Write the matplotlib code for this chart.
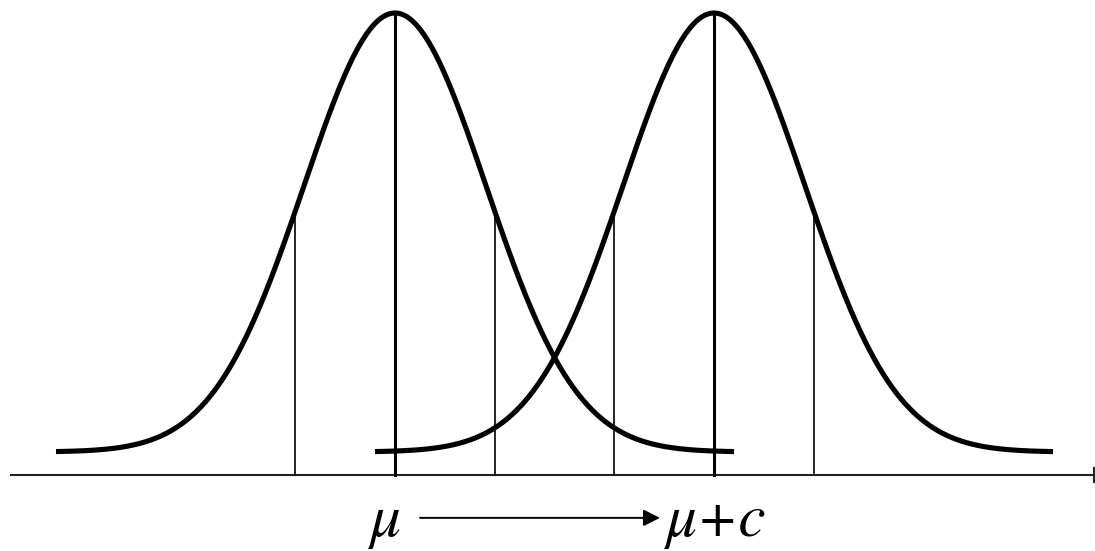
import numpy as np
import matplotlib
matplotlib.use("Agg")
import matplotlib.pyplot as plt

# ---- data (units: 1 unit = distance from mean to side marker line) ----
means = [0.0, 3.19]            # mu and mu + c
curve_sd = 0.91                # spread of each density curve
curve_halfwidth = 3.39         # how far each drawn curve extends from its mean
marker_offsets = [-1.0, 0.0, 1.0]   # vertical marker lines relative to each mean
labels = ["μ", "μ+c"]

fig = plt.figure(figsize=(10.95, 5.51), dpi=100)
ax = fig.add_axes([0, 0, 1, 1])
ax.set_xlim(-3.95, 7.0)
ax.set_ylim(-0.2255, 1.0296)
ax.axis("off")

def dens(x, m):
    return np.exp(-0.5 * ((x - m) / curve_sd) ** 2)

axis_y = -0.0524
for i, m in enumerate(means):
    xs = np.linspace(m - curve_halfwidth, m + curve_halfwidth, 600)
    ax.plot(xs, dens(xs, m), color="black", lw=3.7, solid_capstyle="butt", zorder=3)
    for off in marker_offsets:
        xv = m + off
        top = dens(xv, m)
        bottom = axis_y
        if off == 0:
            ax.plot([xv, xv], [bottom, top], color="black", lw=2.2, zorder=2)
        else:
            if i == 1 and off > 0:
                bottom = -0.0478
            ax.plot([xv, xv], [bottom, top], color="black", lw=1.2, zorder=2)

# horizontal axis
ax.plot([-3.84, 7.0], [axis_y, axis_y], color="#222222", lw=1.5, zorder=1)
ax.plot([6.99, 6.99], [axis_y - 0.016, axis_y + 0.016], color="#222222", lw=1.5)

# labels
font = dict(family=["STIXGeneral", "DejaVu Serif"], style="italic", size=44)
ax.text(means[0] - 0.10, -0.191, labels[0], ha="center", va="baseline", **font)
ax.text(means[1] - 0.49, -0.191, labels[1], ha="left", va="baseline", **font)

# arrow from mu to mu + c
ax.annotate("", xy=(means[1] - 0.54, -0.150), xytext=(means[0] + 0.25, -0.150),
            arrowprops=dict(arrowstyle="-|>,head_length=1.0,head_width=0.5",
                            color="black", lw=1.4, shrinkA=0, shrinkB=0))

fig.savefig("out.png", dpi=100, facecolor="white")
